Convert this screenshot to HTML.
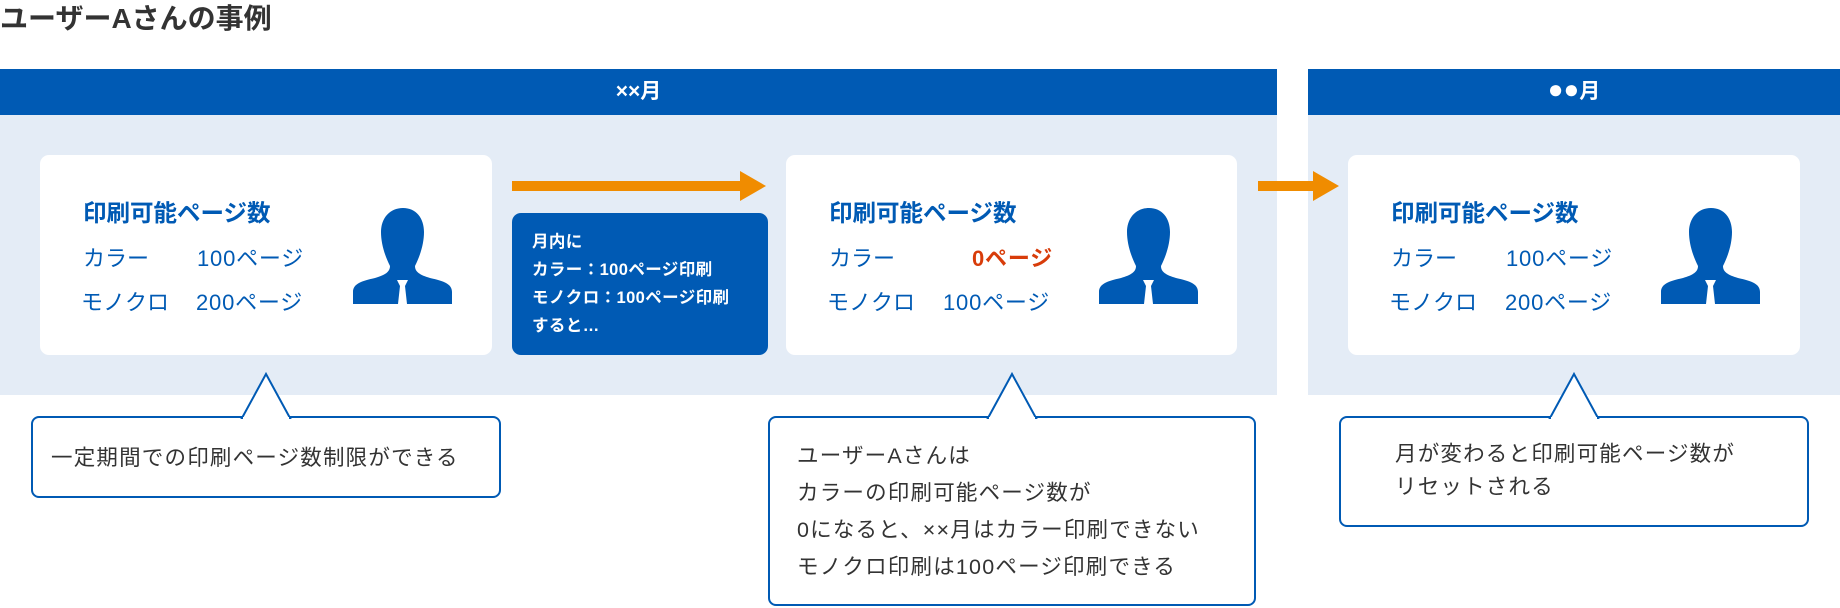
<!DOCTYPE html>
<html><head><meta charset="utf-8"><style>
*{margin:0;padding:0;box-sizing:border-box}
body{width:1840px;height:608px;background:#fff;position:relative;overflow:hidden;font-family:"Liberation Sans","Noto Sans CJK JP",sans-serif;color:#333}
.a{position:absolute}
.hd{background:#005ab4;color:#fff;font-weight:bold;font-size:21px;text-align:center;line-height:46px;height:46px;overflow:hidden}
.bg{background:#e4ecf6}
.card{background:#fff;border-radius:9px}
.ct{color:#005ab4;font-weight:bold;font-size:23.5px;white-space:nowrap}
.cr{color:#005ab4;font-size:22px;white-space:nowrap}
.v{letter-spacing:0.8px}
.co{border:2px solid #005ab4;border-radius:8px;background:#fff;font-size:21.5px;line-height:37px;color:#333;letter-spacing:1.2px;white-space:nowrap}
</style></head><body>
<div class="a" style="left:0;top:-3px;font-size:28px;font-weight:bold;color:#333">ユーザーAさんの事例</div>

<div class="a bg" style="left:0;top:115px;width:1277px;height:280px"></div>
<div class="a hd" style="left:0;top:69px;width:1277px">××月</div>
<div class="a bg" style="left:1308px;top:115px;width:532px;height:280px"></div>
<div class="a hd" style="left:1308px;top:69px;width:532px"><span style="font-size:26px;line-height:1">●●</span>月</div>

<div class="a card" style="left:40px;top:155px;width:452px;height:200px"></div>
<div class="a card" style="left:786px;top:155px;width:451px;height:200px"></div>
<div class="a card" style="left:1348px;top:155px;width:452px;height:200px"></div>

<div class="a ct" style="left:83px;top:194px">印刷可能ページ数</div>
<div class="a cr" style="left:83px;top:241px">カラー</div><div class="a cr v" style="left:197px;top:241px">100ページ</div>
<div class="a cr" style="left:81px;top:285px">モノクロ</div><div class="a cr v" style="left:196px;top:285px">200ページ</div>

<div class="a ct" style="left:829px;top:194px">印刷可能ページ数</div>
<div class="a cr" style="left:829px;top:241px">カラー</div><div class="a cr v" style="left:972px;top:241px;color:#d83c0a;font-weight:bold">0ページ</div>
<div class="a cr" style="left:827px;top:285px">モノクロ</div><div class="a cr v" style="left:943px;top:285px">100ページ</div>

<div class="a ct" style="left:1391px;top:194px">印刷可能ページ数</div>
<div class="a cr" style="left:1391px;top:241px">カラー</div><div class="a cr v" style="left:1506px;top:241px">100ページ</div>
<div class="a cr" style="left:1389px;top:285px">モノクロ</div><div class="a cr v" style="left:1505px;top:285px">200ページ</div>

<svg class="a" style="left:0;top:0" width="1840" height="608">
<defs>
<g id="p">
<path d="M50 0 C37 0 28 10 28 24 C28 36 32 48 37 58 C37 64 32 67 22 70 C8 73 0 76 0 84 L0 96 L99 96 L99 84 C99 76 91 73 77 70 C67 67 62 64 62 58 C67 48 71 36 71 24 C71 10 63 0 50 0Z" fill="#005ab4"/>
<path d="M44 72 L55 72 L52 78 L54 96 L45 96 L47 78Z" fill="#fff"/>
</g>
</defs>
<use href="#p" x="353" y="208"/>
<use href="#p" x="1099" y="208"/>
<use href="#p" x="1661" y="208"/>
<rect x="512" y="181" width="230" height="10" fill="#f08c00"/>
<polygon points="740,171 766,186 740,201" fill="#f08c00"/>
<rect x="1258" y="181" width="58" height="10" fill="#f08c00"/>
<polygon points="1313,171 1339,186 1313,201" fill="#f08c00"/>
</svg>

<div class="a" style="left:512px;top:213px;width:256px;height:142px;background:#005ab4;border-radius:9px;color:#fff;font-weight:bold;font-size:16.5px;line-height:28px;padding:15px 0 0 20px;white-space:nowrap;letter-spacing:0.4px">月内に<br>カラー：100ページ印刷<br>モノクロ：100ページ印刷<br>すると…</div>

<div class="a co" style="left:31px;top:416px;width:470px;height:82px;padding:22px 0 0 18px">一定期間での印刷ページ数制限ができる</div>
<div class="a co" style="left:768px;top:416px;width:488px;height:190px;padding:20px 0 0 27px">ユーザーAさんは<br>カラーの印刷可能ページ数が<br>0になると、××月はカラー印刷できない<br>モノクロ印刷は100ページ印刷できる</div>
<div class="a co" style="left:1339px;top:416px;width:470px;height:111px;padding:20px 0 0 54px;line-height:33px">月が変わると印刷可能ページ数が<br>リセットされる</div>

<svg class="a" style="left:0;top:0" width="1840" height="608">
<polygon points="242,418 266,374 290,418" fill="#fff" stroke="#005ab4" stroke-width="2"/>
<rect x="243" y="417" width="46" height="4" fill="#fff"/>
<polygon points="988,418 1012,374 1036,418" fill="#fff" stroke="#005ab4" stroke-width="2"/>
<rect x="989" y="417" width="46" height="4" fill="#fff"/>
<polygon points="1550,418 1574,374 1598,418" fill="#fff" stroke="#005ab4" stroke-width="2"/>
<rect x="1551" y="417" width="46" height="4" fill="#fff"/>
</svg>
</body></html>
